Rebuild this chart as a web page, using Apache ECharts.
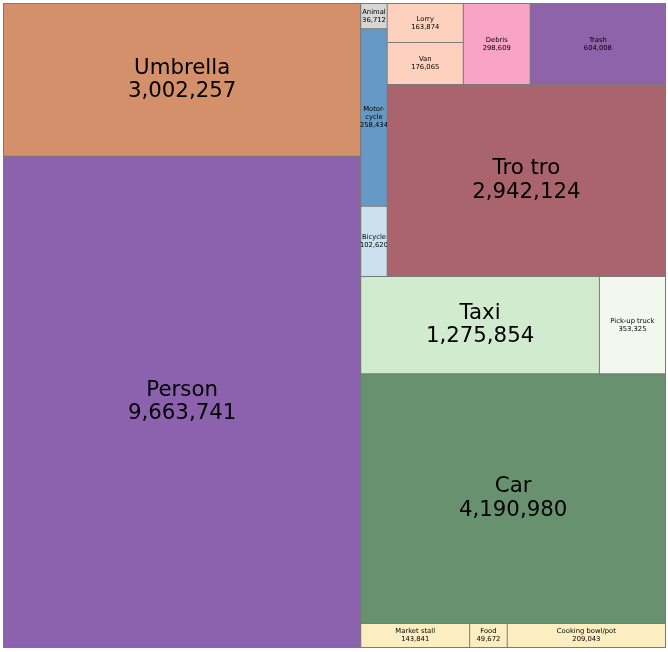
<!DOCTYPE html>
<html>
<head>
<meta charset="utf-8">
<script src="https://cdn.jsdelivr.net/npm/echarts@6/dist/echarts.min.js"></script>
<style>
  html, body { margin: 0; padding: 0; background: #ffffff; }
  #chart { width: 668px; height: 652px; }
</style>
</head>
<body>
<div id="chart"></div>
<script>
// ---- data ----
const categories = ['Umbrella', 'Person', 'Animal', 'Motor-\ncycle', 'Bicycle', 'Lorry', 'Van', 'Debris', 'Trash',
  'Tro tro', 'Taxi', 'Pick-up truck', 'Car', 'Market stall', 'Food', 'Cooking bowl/pot'];
const values = [3002257, 9663741, 36712, 258434, 102620, 163874, 176065, 298609, 604008,
  2942124, 1275854, 353325, 4190980, 143841, 49672, 209043];

// ---- styles ----
const colors = ['#D4906A', '#8C62AE', '#D6D6D6', '#6699C6', '#CCE1EE', '#FDD1BD', '#FDD1BD', '#F9A3C6', '#8F63A9',
  '#A9646E', '#D1EBCF', '#F2F8F0', '#67916F', '#FDEEC1', '#FDEEC1', '#FDEEC1'];

// grouping of the categories (nesting only, no coordinates)
const grouping = ['Umbrella', 'Person', [
  ['Animal', 'Motor-\ncycle', 'Bicycle', [['Lorry', 'Van', 'Debris', 'Trash'], 'Tro tro']],
  ['Taxi', 'Pick-up truck', 'Car'],
  'Market stall', 'Food', 'Cooking bowl/pot'
]];

const BORDER = '#7a7a7a';
let gid = 0;
function build(item) {
  if (Array.isArray(item)) {
    gid++;
    return {
      name: 'group' + gid,
      children: item.map(build),
      itemStyle: { borderWidth: 0, gapWidth: 0, borderColor: BORDER }
    };
  }
  const i = categories.indexOf(item);
  const big = values[i] >= 1000000;
  return {
    name: categories[i],
    value: values[i],
    itemStyle: { color: colors[i], borderWidth: 0.5, borderColor: BORDER },
    label: {
      fontSize: big ? 21.3 : 6.8,
      lineHeight: big ? 23.5 : 8.2
    }
  };
}
const treeData = grouping.map(build);

const chart = echarts.init(document.getElementById('chart'), null, { renderer: 'canvas' });
chart.setOption({
  animation: false,
  backgroundColor: '#ffffff',
  series: [{
    type: 'treemap',
    left: 3, top: 3, width: 663, height: 645,
    sort: false,
    roam: false,
    nodeClick: false,
    breadcrumb: { show: false },
    itemStyle: { borderWidth: 0.5, borderColor: BORDER, gapWidth: 0 },
    upperLabel: { show: false },
    label: {
      show: true,
      position: 'inside',
      align: 'center',
      verticalAlign: 'middle',
      padding: 0,
      overflow: 'none',
      color: '#000000',
      textBorderWidth: 0,
      fontFamily: 'DejaVu Sans',
      formatter: function (p) {
        return p.name + '\n' + Number(p.value).toLocaleString('en-US');
      }
    },
    emphasis: { disabled: true },
    data: treeData
  }]
});
</script>
</body>
</html>
